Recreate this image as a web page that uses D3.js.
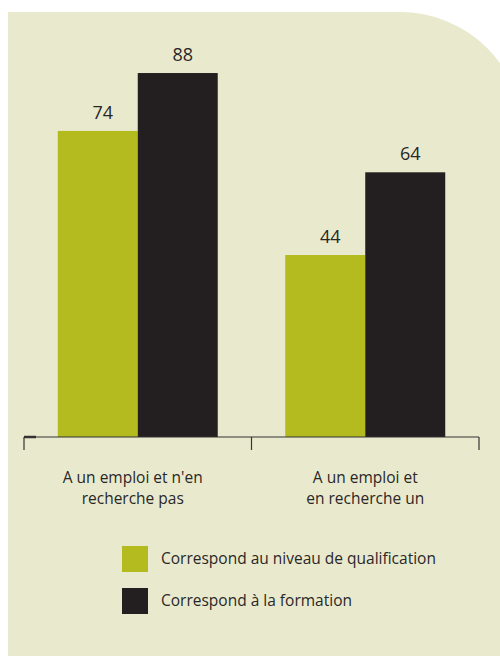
<!DOCTYPE html>
<html><head><meta charset="utf-8">
<script src="https://cdn.jsdelivr.net/npm/d3@7"></script>
<style>html,body{margin:0;padding:0;background:#fff;}svg{display:block;}</style>
</head><body>
<svg id="c" width="500" height="656"></svg>
<script>
const categories = [["A un emploi et n'en", "recherche pas"], ["A un emploi et", "en recherche un"]];
const categoryKeys = ["cat1", "cat2"];
const seriesNames = ["Correspond au niveau de qualification", "Correspond à la formation"];
const seriesColors = ["#b3bb1f", "#231f20"];
const qualification = [74, 44];
const formation = [88, 64];

const svg = d3.select("#c");
const font = "'Open Sans', sans-serif";
const textColor = "#2a2728";

// background panel with rounded top-right corner
svg.append("path")
  .attr("d", "M8,12 H400 A123.5,123.5 0 0 1 523.5,135.5 V656 H8 Z")
  .attr("fill", "#e9eacd");

const x0 = d3.scaleBand().domain(categoryKeys).range([24, 479]).padding(0);
const x1 = d3.scaleBand().domain(seriesNames).range([0, x0.bandwidth()]).paddingInner(0).paddingOuter(0.422);
const y = d3.scaleLinear().domain([0, 100]).range([437, 23.4]);

const data = categoryKeys.map((k, i) => ({key: k, values: [qualification[i], formation[i]]}));

const groups = svg.selectAll("g.grp").data(data).enter().append("g")
  .attr("transform", d => `translate(${x0(d.key)},0)`);

groups.selectAll("rect").data(d => d.values.map((v, j) => ({v, s: seriesNames[j], c: seriesColors[j]})))
  .enter().append("rect")
  .attr("x", d => x1(d.s))
  .attr("width", x1.bandwidth())
  .attr("y", d => y(d.v))
  .attr("height", d => y(0) - y(d.v))
  .attr("fill", d => d.c);

groups.selectAll("text.val").data(d => d.values.map((v, j) => ({v, s: seriesNames[j]})))
  .enter().append("text")
  .attr("class", "val")
  .attr("x", d => x1(d.s) + x1.bandwidth() / 2 + 5)
  .attr("y", d => y(d.v) - 12)
  .attr("text-anchor", "middle")
  .attr("font-family", font)
  .attr("font-size", 18)
  .attr("fill", textColor)
  .text(d => d.v);

// axis
const axisG = svg.append("g").attr("transform", `translate(0,${y(0)})`);
axisG.append("line").attr("x1", x0.range()[0]).attr("x2", x0.range()[1])
  .attr("y1", 0).attr("y2", 0).attr("stroke", "#333").attr("stroke-width", 1.2);
const tickPos = categoryKeys.map(k => x0(k)).concat([x0.range()[1]]);
axisG.selectAll("line.tick").data(tickPos).enter().append("line")
  .attr("class", "tick")
  .attr("x1", d => d).attr("x2", d => d)
  .attr("y1", 0).attr("y2", 13)
  .attr("stroke", "#333").attr("stroke-width", 1.2);
axisG.append("line").attr("x1", x0.range()[0]).attr("x2", x0.range()[0] + 12)
  .attr("y1", 0).attr("y2", 0).attr("stroke", "#333").attr("stroke-width", 2.5);

// category labels
categoryKeys.forEach((k, i) => {
  const t = svg.append("text")
    .attr("x", x0(k) + x0.bandwidth() / 2)
    .attr("y", 483)
    .attr("text-anchor", "middle")
    .attr("font-family", font)
    .attr("font-size", 15.5)
    .attr("fill", textColor);
  categories[i].forEach((line, li) => {
    t.append("tspan").attr("x", x0(k) + x0.bandwidth() / 2 - (i === 0 ? 5 : 0)).attr("dy", li === 0 ? 0 : 21).text(line);
  });
});

// legend
const legend = svg.selectAll("g.leg").data(seriesNames).enter().append("g")
  .attr("transform", (d, i) => `translate(122,${546 + i * 42})`);
legend.append("rect").attr("width", 26).attr("height", 26)
  .attr("fill", (d, i) => seriesColors[i]);
legend.append("text").attr("x", 39).attr("y", 18)
  .attr("font-family", font).attr("font-size", 15.5).attr("fill", textColor)
  .text(d => d);
</script>
</body></html>
